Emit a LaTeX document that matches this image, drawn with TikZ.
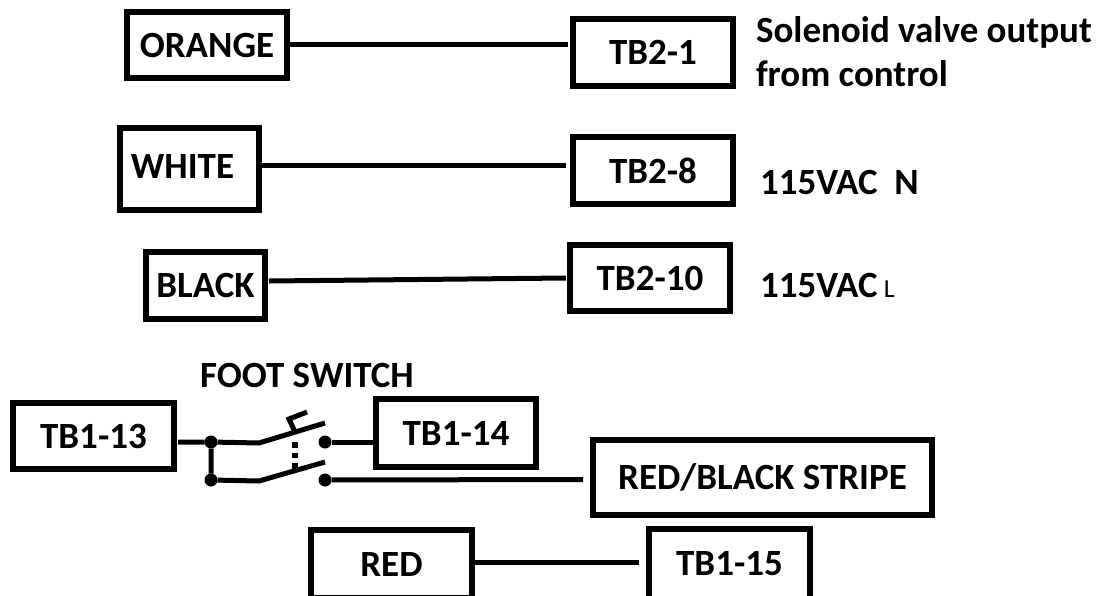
\documentclass[tikz,border=0pt]{standalone}
\usepackage{fontspec}
\setmainfont{Carlito}
\tikzset{
  termbox/.style={draw,line width=5.3pt,inner sep=0pt,outer sep=0pt,font=\bfseries\fontsize{37}{44}\selectfont},
  note/.style={inner sep=0pt,outer sep=0pt,anchor=base west,font=\bfseries\fontsize{37}{44}\selectfont},
  wire/.style={line width=5pt},
  contact/.style={circle,fill=black,inner sep=0pt,outer sep=0pt,minimum size=13pt}
}
\begin{document}
\begin{tikzpicture}[x=1pt,y=-1pt]
      \clip (0,0) rectangle (1111,595);
      \fill[white] (0,0) rectangle (1111,595);
      \draw
        (207,45) node[termbox,minimum width=160pt,minimum height=66pt] (orange){\raisebox{-2pt}{ORANGE}}
        (189.5,169) node[termbox,minimum width=139pt,minimum height=82pt] (white){\raisebox{6pt}{WHITE\hspace{14pt}}}
        (205.5,285.5) node[termbox,minimum width=119pt,minimum height=67pt] (black){BLACK}
        (653,52.5) node[termbox,minimum width=160pt,minimum height=67pt] (tb21){TB2-1}
        (653,170.5) node[termbox,minimum width=160pt,minimum height=67pt] (tb28){TB2-8}
        (650,278) node[termbox,minimum width=160pt,minimum height=66pt] (tb210){TB2-10}
        (93.5,436) node[termbox,minimum width=161pt,minimum height=66pt] (tb113){\raisebox{-1.5pt}{TB1-13}}
        (456,433) node[termbox,minimum width=160pt,minimum height=68pt] (tb114){\raisebox{-2pt}{TB1-14}}
        (762.5,477.5) node[termbox,minimum width=339pt,minimum height=75pt] (stripe){\raisebox{2pt}{RED/BLACK STRIPE}}
        (391.5,564) node[termbox,minimum width=161pt,minimum height=68pt] (red){RED}
        (729.5,564) node[termbox,minimum width=161pt,minimum height=70pt] (tb115){TB1-15};
      \node[note] (valve) at (756,42) {Solenoid valve output};
      \node[note] (control) at (756,86) {from control};
      \node[note] (neutral) at (760,194) {115VAC~~N};
      \node[note] (line) at (760,297) {115VAC\,{\mdseries\fontsize{26}{26}\selectfont L}};
      \node[note,anchor=base] (foot) at (307,387) {FOOT SWITCH};
      \node[contact] (c1) at (211,442) {};
      \node[contact] (c2) at (211,480) {};
      \node[contact] (c3) at (325,442) {};
      \node[contact] (c4) at (325,480) {};
      \coordinate (hinge1) at (259,443);
      \coordinate (hinge2) at (259,481);
      \coordinate (tip1) at (325,423);
      \coordinate (tip2) at (325,462);
      \coordinate (stem1) at (295,432);
      \coordinate (stem2) at (295,469);
      \coordinate (stem3) at (289,419);
      \coordinate (pedal) at (307,412);
      \begin{scope}[wire]
        \draw ([xshift=3pt,yshift=1pt]orange.east) to ([xshift=-5pt,yshift=8.5pt]tb21.west);
        \draw ([xshift=2pt,yshift=4pt]white.east) to ([xshift=-7pt,yshift=5.5pt]tb28.west);
        \draw ([xshift=4pt,yshift=4.5pt]black.east) to ([xshift=-4pt]tb210.west);
        \draw ([xshift=4pt,yshift=-6pt]tb113.east) to (c1) to (hinge1) to (tip1);
        \draw (c1) to (c2) to (hinge2) to (tip2);
        \draw (c3) to ([yshift=-9pt]tb114.west);
        \draw (c4) to ([xshift=-10pt,yshift=-2pt]stripe.west);
        \draw ([xshift=2pt,yshift=2pt]red.east) to ([xshift=-10pt,yshift=2pt]tb115.west);
        \draw[line width=6pt,dash pattern=on 5.5pt off 5pt] (stem1) ++(0,10) to (stem2);
        \draw (stem1) to (stem3) to (pedal);
      \end{scope}
    \end{tikzpicture}
\end{document}
